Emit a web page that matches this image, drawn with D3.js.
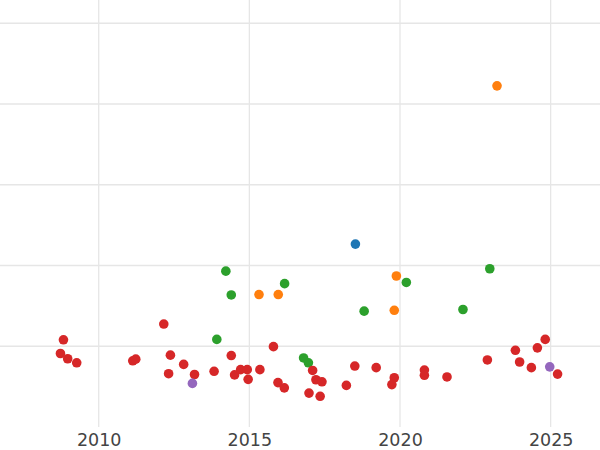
<!DOCTYPE html>
<html>
<head>
<meta charset="utf-8">
<script src="https://cdn.jsdelivr.net/npm/d3@7"></script>
<style>
  html, body { margin: 0; padding: 0; background: #fff; }
  svg { display: block; }
</style>
</head>
<body>
<svg id="chart" width="600" height="450"></svg>
<script>
// ---- data ----
const xTicks = [2010, 2015, 2020, 2025];
const yTicks = [20, 40, 60, 80, 100];

const redYears = [2008.83, 2008.73, 2008.97, 2009.27, 2011.13, 2011.23, 2012.16, 2012.38, 2012.82, 2012.32,
  2013.18, 2013.83, 2014.40, 2014.51, 2014.71, 2014.93, 2014.96, 2015.35, 2015.80, 2015.95,
  2016.16, 2017.10, 2017.21, 2017.41, 2016.98, 2017.35, 2018.22, 2018.50, 2019.21, 2019.81,
  2019.73, 2020.81, 2020.81, 2021.56, 2022.90, 2023.83, 2023.97, 2024.36, 2024.56, 2024.82, 2025.23];
const redValues = [21.6, 18.2, 16.9, 15.9, 16.4, 16.8, 25.5, 17.8, 15.5, 13.2,
  13.0, 13.8, 17.7, 12.9, 14.2, 14.2, 11.8, 14.2, 19.9, 11.0,
  9.7, 14.0, 11.7, 11.2, 8.4, 7.6, 10.3, 15.1, 14.7, 12.2,
  10.5, 14.1, 12.8, 12.4, 16.6, 19.0, 16.1, 14.7, 19.6, 21.7, 13.1];

const greenYears = [2013.92, 2014.22, 2014.40, 2016.17, 2016.80, 2016.96, 2018.81, 2020.21, 2022.09, 2022.98];
const greenValues = [21.7, 38.6, 32.7, 35.5, 17.1, 15.9, 28.7, 35.8, 29.1, 39.2];

const orangeYears = [2015.32, 2015.96, 2019.81, 2019.88, 2023.22];
const orangeValues = [32.8, 32.8, 28.9, 37.4, 84.5];

const blueYears = [2018.52];
const blueValues = [45.3];

const purpleYears = [2013.11, 2024.97];
const purpleValues = [10.8, 14.9];

const seriesColors = ["#d62728", "#2ca02c", "#ff7f0e", "#1f77b4", "#9467bd"];

// ---- build ----
const series = [
  { years: greenYears, values: greenValues, color: seriesColors[1] },
  { years: orangeYears, values: orangeValues, color: seriesColors[2] },
  { years: blueYears, values: blueValues, color: seriesColors[3] },
  { years: redYears, values: redValues, color: seriesColors[0] },
  { years: purpleYears, values: purpleValues, color: seriesColors[4] }
];

const svg = d3.select("#chart");
const W = 600, plotBottom = 427;

const x = d3.scaleLinear().domain([2006.724, 2026.638]).range([0, W]);
const y = d3.scaleLinear().domain([0, 105.76]).range([plotBottom, 0]);

// grid
svg.append("g").selectAll("line").data(yTicks).join("line")
  .attr("x1", 0).attr("x2", W)
  .attr("y1", d => y(d)).attr("y2", d => y(d))
  .attr("stroke", "#e6e6e6").attr("stroke-width", 1.3);

svg.append("g").selectAll("line").data(xTicks).join("line")
  .attr("x1", d => x(d)).attr("x2", d => x(d))
  .attr("y1", 0).attr("y2", plotBottom)
  .attr("stroke", "#e6e6e6").attr("stroke-width", 1.3);

// x axis labels
const xAxis = d3.axisBottom(x).tickValues(xTicks).tickFormat(d3.format("d")).tickSize(0).tickPadding(7);
const gx = svg.append("g").attr("transform", `translate(0,${plotBottom})`).call(xAxis);
gx.select(".domain").remove();
gx.selectAll("text")
  .attr("font-family", "DejaVu Sans, sans-serif")
  .attr("font-size", "17.5px")
  .attr("fill", "#444");

// points
series.forEach(s => {
  svg.append("g").selectAll("circle").data(s.years.map((yr, i) => [yr, s.values[i]])).join("circle")
    .attr("cx", d => x(d[0]))
    .attr("cy", d => y(d[1]))
    .attr("r", 4.8)
    .attr("fill", s.color);
});
</script>
</body>
</html>
